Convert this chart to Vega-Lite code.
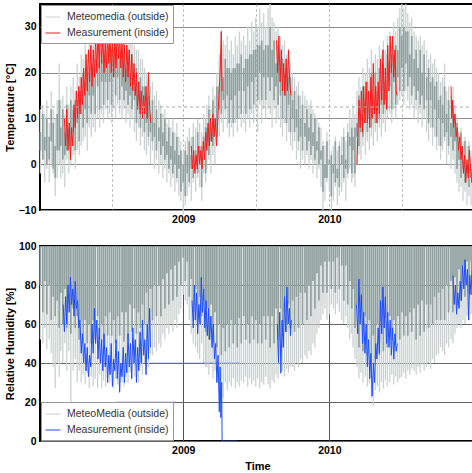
{
"$schema":"https://vega.github.io/schema/vega-lite/v6.json",
"padding":{"left":3,"top":2,"right":1,"bottom":2},
"config":{"font":"Liberation Sans","view":{"stroke":"#000","strokeWidth":2},
"axis":{"labelFont":"Liberation Sans","labelFontWeight":"bold","labelFontSize":10.5,"labelColor":"#000","titleFont":"Liberation Sans","titleFontWeight":"bold","titleFontSize":11,"titleColor":"#000","ticks":false,"domain":false,"zindex":1,"labelOverlap":false,"labelBound":false},
"axisY":{"labelOverlap":false,"labelSeparation":0},
"legend":{"title":null,"offset":1,"padding":4,"fillColor":"#fff","strokeColor":"#999","symbolType":"stroke","symbolSize":225,"symbolStrokeWidth":1,"labelFont":"Liberation Sans","labelFontSize":10.5,"labelColor":"#333","rowPadding":2,"labelOffset":6}},
"datasets":{
"out":[
{"d":"2008-01-10","tn":-2,"tx":12,"tl":3,"th":7,"hn":52,"hl":80},
{"d":"2008-01-16","tn":1,"tx":13,"tl":1,"th":11,"hn":50,"hl":66},
{"d":"2008-01-21","tn":-4,"tx":11,"tl":3,"th":6,"hn":58,"hl":82},
{"d":"2008-01-26","tn":-1,"tx":14,"tl":0,"th":10,"hn":47,"hl":65},
{"d":"2008-02-01","tn":-4,"tx":9,"tl":1,"th":6,"hn":52,"hl":80},
{"d":"2008-02-06","tn":0,"tx":16,"tl":5,"th":12,"hn":45,"hl":62},
{"d":"2008-02-11","tn":-2,"tx":12,"tl":-1,"th":9,"hn":38,"hl":74},
{"d":"2008-02-16","tn":-7,"tx":10,"tl":-3,"th":4,"hn":27,"hl":64},
{"d":"2008-02-21","tn":-3,"tx":14,"tl":3,"th":11,"hn":40,"hl":72},
{"d":"2008-02-26","tn":0,"tx":22,"tl":3,"th":14,"hn":33,"hl":58},
{"d":"2008-03-01","tn":-3,"tx":14,"tl":4,"th":8,"hn":46,"hl":76},
{"d":"2008-03-06","tn":-2,"tx":15,"tl":1,"th":12,"hn":40,"hl":60},
{"d":"2008-03-11","tn":-5,"tx":11,"tl":2,"th":7,"hn":50,"hl":78},
{"d":"2008-03-16","tn":1,"tx":17,"tl":3,"th":13,"hn":36,"hl":58},
{"d":"2008-03-21","tn":-2,"tx":13,"tl":4,"th":8,"hn":46,"hl":74},
{"d":"2008-03-26","tn":0,"tx":17,"tl":4,"th":14,"hn":17,"hl":55},
{"d":"2008-04-01","tn":2,"tx":19,"tl":7,"th":12,"hn":36,"hl":68},
{"d":"2008-04-06","tn":-1,"tx":16,"tl":3,"th":14,"hn":42,"hl":58},
{"d":"2008-04-11","tn":3,"tx":22,"tl":9,"th":14,"hn":30,"hl":64},
{"d":"2008-04-16","tn":2,"tx":19,"tl":5,"th":16,"hn":36,"hl":52},
{"d":"2008-04-21","tn":4,"tx":24,"tl":11,"th":16,"hn":30,"hl":62},
{"d":"2008-04-26","tn":5,"tx":23,"tl":8,"th":20,"hn":34,"hl":50},
{"d":"2008-05-01","tn":6,"tx":27,"tl":12,"th":18,"hn":29,"hl":62},
{"d":"2008-05-06","tn":3,"tx":23,"tl":9,"th":20,"hn":35,"hl":50},
{"d":"2008-05-11","tn":8,"tx":28,"tl":15,"th":20,"hn":27,"hl":60},
{"d":"2008-05-16","tn":6,"tx":26,"tl":11,"th":22,"hn":33,"hl":50},
{"d":"2008-05-21","tn":8,"tx":29,"tl":15,"th":21,"hn":28,"hl":62},
{"d":"2008-05-26","tn":7,"tx":27,"tl":11,"th":23,"hn":32,"hl":52},
{"d":"2008-06-01","tn":10,"tx":31,"tl":17,"th":22,"hn":27,"hl":64},
{"d":"2008-06-06","tn":8,"tx":28,"tl":12,"th":25,"hn":34,"hl":52},
{"d":"2008-06-11","tn":11,"tx":31,"tl":18,"th":23,"hn":27,"hl":60},
{"d":"2008-06-16","tn":9,"tx":30,"tl":13,"th":25,"hn":31,"hl":50},
{"d":"2008-06-21","tn":12,"tx":32,"tl":18,"th":24,"hn":28,"hl":64},
{"d":"2008-06-26","tn":10,"tx":30,"tl":14,"th":26,"hn":33,"hl":54},
{"d":"2008-07-01","tn":11,"tx":33,"tl":18,"th":24,"hn":30,"hl":66},
{"d":"2008-07-06","tn":9,"tx":29,"tl":13,"th":25,"hn":35,"hl":54},
{"d":"2008-07-11","tn":12,"tx":33,"tl":19,"th":25,"hn":27,"hl":62},
{"d":"2008-07-16","tn":10,"tx":31,"tl":15,"th":26,"hn":32,"hl":50},
{"d":"2008-07-21","tn":13,"tx":31,"tl":19,"th":24,"hn":29,"hl":64},
{"d":"2008-07-26","tn":11,"tx":32,"tl":14,"th":26,"hn":33,"hl":54},
{"d":"2008-08-01","tn":10,"tx":30,"tl":17,"th":23,"hn":30,"hl":66},
{"d":"2008-08-06","tn":12,"tx":32,"tl":14,"th":27,"hn":28,"hl":51},
{"d":"2008-08-11","tn":9,"tx":28,"tl":16,"th":21,"hn":33,"hl":66},
{"d":"2008-08-16","tn":11,"tx":30,"tl":13,"th":25,"hn":30,"hl":52},
{"d":"2008-08-21","tn":8,"tx":27,"tl":15,"th":20,"hn":35,"hl":70},
{"d":"2008-08-26","tn":10,"tx":28,"tl":12,"th":24,"hn":32,"hl":56},
{"d":"2008-09-01","tn":7,"tx":26,"tl":14,"th":19,"hn":33,"hl":68},
{"d":"2008-09-06","tn":5,"tx":25,"tl":9,"th":21,"hn":37,"hl":55},
{"d":"2008-09-11","tn":8,"tx":25,"tl":14,"th":18,"hn":30,"hl":66},
{"d":"2008-09-16","tn":4,"tx":23,"tl":8,"th":19,"hn":38,"hl":58},
{"d":"2008-09-21","tn":6,"tx":23,"tl":12,"th":17,"hn":34,"hl":70},
{"d":"2008-09-26","tn":3,"tx":21,"tl":7,"th":17,"hn":40,"hl":60},
{"d":"2008-10-01","tn":2,"tx":20,"tl":9,"th":13,"hn":42,"hl":76},
{"d":"2008-10-06","tn":4,"tx":19,"tl":6,"th":15,"hn":38,"hl":60},
{"d":"2008-10-11","tn":0,"tx":17,"tl":7,"th":11,"hn":45,"hl":78},
{"d":"2008-10-16","tn":3,"tx":18,"tl":5,"th":14,"hn":44,"hl":62},
{"d":"2008-10-21","tn":-1,"tx":15,"tl":6,"th":9,"hn":48,"hl":80},
{"d":"2008-10-26","tn":1,"tx":16,"tl":3,"th":12,"hn":46,"hl":64},
{"d":"2008-11-01","tn":-2,"tx":14,"tl":5,"th":8,"hn":50,"hl":80},
{"d":"2008-11-06","tn":0,"tx":13,"tl":2,"th":11,"hn":48,"hl":64},
{"d":"2008-11-11","tn":-3,"tx":11,"tl":4,"th":7,"hn":55,"hl":83},
{"d":"2008-11-16","tn":-1,"tx":12,"tl":1,"th":10,"hn":52,"hl":68},
{"d":"2008-11-21","tn":-4,"tx":9,"tl":2,"th":5,"hn":58,"hl":86},
{"d":"2008-11-26","tn":-2,"tx":10,"tl":-1,"th":8,"hn":55,"hl":70},
{"d":"2008-12-01","tn":-5,"tx":8,"tl":1,"th":4,"hn":60,"hl":88},
{"d":"2008-12-06","tn":-3,"tx":10,"tl":-2,"th":7,"hn":56,"hl":72},
{"d":"2008-12-11","tn":-6,"tx":7,"tl":0,"th":3,"hn":62,"hl":90},
{"d":"2008-12-16","tn":-4,"tx":9,"tl":-3,"th":6,"hn":58,"hl":74},
{"d":"2008-12-21","tn":-7,"tx":6,"tl":-1,"th":2,"hn":65,"hl":92},
{"d":"2008-12-26","tn":-8,"tx":5,"tl":-6,"th":3,"hn":68,"hl":80},
{"d":"2009-01-01","tn":-11,"tx":3,"tl":-4,"th":0,"hn":75,"hl":94},
{"d":"2009-01-06","tn":-9,"tx":5,"tl":-7,"th":3,"hn":72,"hl":82},
{"d":"2009-01-11","tn":-7,"tx":6,"tl":-2,"th":2,"hn":70,"hl":92},
{"d":"2009-01-16","tn":-5,"tx":8,"tl":-4,"th":5,"hn":62,"hl":74},
{"d":"2009-01-21","tn":-8,"tx":6,"tl":-1,"th":2,"hn":55,"hl":83},
{"d":"2009-01-26","tn":-4,"tx":9,"tl":-3,"th":6,"hn":50,"hl":66},
{"d":"2009-02-01","tn":-6,"tx":8,"tl":0,"th":3,"hn":48,"hl":78},
{"d":"2009-02-06","tn":-3,"tx":10,"tl":-2,"th":7,"hn":45,"hl":62},
{"d":"2009-02-11","tn":-5,"tx":9,"tl":1,"th":4,"hn":42,"hl":74},
{"d":"2009-02-16","tn":-8,"tx":7,"tl":-5,"th":4,"hn":50,"hl":64},
{"d":"2009-02-21","tn":-2,"tx":11,"tl":3,"th":6,"hn":40,"hl":72},
{"d":"2009-02-26","tn":-4,"tx":10,"tl":-2,"th":8,"hn":38,"hl":56},
{"d":"2009-03-01","tn":-1,"tx":13,"tl":5,"th":8,"hn":38,"hl":68},
{"d":"2009-03-06","tn":1,"tx":15,"tl":2,"th":12,"hn":34,"hl":52},
{"d":"2009-03-11","tn":-2,"tx":12,"tl":5,"th":8,"hn":40,"hl":70},
{"d":"2009-03-16","tn":2,"tx":17,"tl":4,"th":14,"hn":32,"hl":50},
{"d":"2009-03-21","tn":0,"tx":15,"tl":7,"th":10,"hn":36,"hl":66},
{"d":"2009-03-26","tn":4,"tx":20,"tl":6,"th":17,"hn":30,"hl":48},
{"d":"2009-04-01","tn":6,"tx":24,"tl":12,"th":17,"hn":26,"hl":60},
{"d":"2009-04-06","tn":9,"tx":29,"tl":11,"th":23,"hn":20,"hl":44},
{"d":"2009-04-11","tn":7,"tx":27,"tl":14,"th":19,"hn":22,"hl":58},
{"d":"2009-04-16","tn":10,"tx":26,"tl":12,"th":23,"hn":30,"hl":46},
{"d":"2009-04-21","tn":8,"tx":28,"tl":15,"th":21,"hn":26,"hl":60},
{"d":"2009-04-26","tn":6,"tx":25,"tl":9,"th":21,"hn":30,"hl":48},
{"d":"2009-05-01","tn":8,"tx":27,"tl":14,"th":20,"hn":28,"hl":62},
{"d":"2009-05-06","tn":6,"tx":24,"tl":9,"th":21,"hn":32,"hl":50},
{"d":"2009-05-11","tn":9,"tx":28,"tl":15,"th":21,"hn":27,"hl":60},
{"d":"2009-05-16","tn":7,"tx":26,"tl":10,"th":22,"hn":30,"hl":48},
{"d":"2009-05-21","tn":10,"tx":29,"tl":16,"th":22,"hn":28,"hl":63},
{"d":"2009-05-26","tn":8,"tx":27,"tl":11,"th":24,"hn":31,"hl":50},
{"d":"2009-06-01","tn":9,"tx":28,"tl":16,"th":21,"hn":30,"hl":64},
{"d":"2009-06-06","tn":7,"tx":26,"tl":11,"th":23,"hn":33,"hl":52},
{"d":"2009-06-11","tn":10,"tx":30,"tl":17,"th":23,"hn":28,"hl":60},
{"d":"2009-06-16","tn":8,"tx":27,"tl":12,"th":24,"hn":32,"hl":50},
{"d":"2009-06-21","tn":11,"tx":31,"tl":18,"th":24,"hn":29,"hl":64},
{"d":"2009-06-26","tn":9,"tx":29,"tl":13,"th":25,"hn":31,"hl":52},
{"d":"2009-07-01","tn":12,"tx":32,"tl":19,"th":25,"hn":28,"hl":62},
{"d":"2009-07-06","tn":7,"tx":30,"tl":14,"th":26,"hn":32,"hl":50},
{"d":"2009-07-11","tn":13,"tx":34,"tl":20,"th":26,"hn":27,"hl":60},
{"d":"2009-07-16","tn":9,"tx":31,"tl":14,"th":27,"hn":30,"hl":50},
{"d":"2009-07-21","tn":12,"tx":33,"tl":19,"th":25,"hn":29,"hl":64},
{"d":"2009-07-26","tn":10,"tx":30,"tl":14,"th":26,"hn":33,"hl":52},
{"d":"2009-08-01","tn":12,"tx":34,"tl":19,"th":26,"hn":29,"hl":64},
{"d":"2009-08-06","tn":11,"tx":35,"tl":16,"th":30,"hn":27,"hl":48},
{"d":"2009-08-11","tn":8,"tx":32,"tl":19,"th":25,"hn":31,"hl":64},
{"d":"2009-08-16","tn":12,"tx":31,"tl":14,"th":27,"hn":30,"hl":50},
{"d":"2009-08-21","tn":9,"tx":29,"tl":17,"th":22,"hn":34,"hl":68},
{"d":"2009-08-26","tn":10,"tx":30,"tl":13,"th":26,"hn":32,"hl":52},
{"d":"2009-09-01","tn":8,"tx":28,"tl":15,"th":21,"hn":34,"hl":68},
{"d":"2009-09-06","tn":6,"tx":26,"tl":10,"th":23,"hn":36,"hl":54},
{"d":"2009-09-11","tn":9,"tx":27,"tl":15,"th":20,"hn":33,"hl":66},
{"d":"2009-09-16","tn":5,"tx":24,"tl":9,"th":21,"hn":37,"hl":56},
{"d":"2009-09-21","tn":7,"tx":25,"tl":13,"th":19,"hn":35,"hl":70},
{"d":"2009-09-26","tn":4,"tx":22,"tl":7,"th":19,"hn":38,"hl":58},
{"d":"2009-10-01","tn":3,"tx":20,"tl":10,"th":14,"hn":38,"hl":72},
{"d":"2009-10-06","tn":5,"tx":19,"tl":7,"th":16,"hn":36,"hl":56},
{"d":"2009-10-11","tn":1,"tx":17,"tl":8,"th":12,"hn":40,"hl":74},
{"d":"2009-10-16","tn":3,"tx":18,"tl":5,"th":15,"hn":38,"hl":58},
{"d":"2009-10-21","tn":-1,"tx":15,"tl":6,"th":10,"hn":42,"hl":76},
{"d":"2009-10-26","tn":1,"tx":16,"tl":3,"th":13,"hn":40,"hl":60},
{"d":"2009-11-01","tn":0,"tx":15,"tl":6,"th":9,"hn":44,"hl":76},
{"d":"2009-11-06","tn":2,"tx":14,"tl":3,"th":12,"hn":42,"hl":62},
{"d":"2009-11-11","tn":-1,"tx":13,"tl":5,"th":8,"hn":46,"hl":80},
{"d":"2009-11-16","tn":1,"tx":14,"tl":2,"th":11,"hn":44,"hl":64},
{"d":"2009-11-21","tn":-2,"tx":12,"tl":4,"th":7,"hn":50,"hl":82},
{"d":"2009-11-26","tn":0,"tx":11,"tl":1,"th":10,"hn":48,"hl":68},
{"d":"2009-12-01","tn":-3,"tx":10,"tl":3,"th":5,"hn":55,"hl":86},
{"d":"2009-12-06","tn":-1,"tx":9,"tl":0,"th":8,"hn":58,"hl":72},
{"d":"2009-12-11","tn":-5,"tx":8,"tl":1,"th":3,"hn":62,"hl":90},
{"d":"2009-12-16","tn":-10,"tx":5,"tl":-6,"th":4,"hn":65,"hl":76},
{"d":"2009-12-21","tn":-8,"tx":4,"tl":-3,"th":0,"hn":68,"hl":92},
{"d":"2009-12-26","tn":-4,"tx":7,"tl":-3,"th":5,"hn":62,"hl":76},
{"d":"2010-01-01","tn":-6,"tx":5,"tl":0,"th":1,"hn":65,"hl":92},
{"d":"2010-01-06","tn":-10,"tx":3,"tl":-7,"th":2,"hn":70,"hl":78},
{"d":"2010-01-11","tn":-8,"tx":4,"tl":-2,"th":0,"hn":68,"hl":92},
{"d":"2010-01-16","tn":-5,"tx":6,"tl":-4,"th":5,"hn":65,"hl":76},
{"d":"2010-01-21","tn":-9,"tx":3,"tl":-3,"th":-1,"hn":70,"hl":94},
{"d":"2010-01-26","tn":-7,"tx":5,"tl":-5,"th":4,"hn":66,"hl":78},
{"d":"2010-02-01","tn":-6,"tx":6,"tl":0,"th":2,"hn":62,"hl":90},
{"d":"2010-02-06","tn":-4,"tx":8,"tl":-3,"th":6,"hn":60,"hl":72},
{"d":"2010-02-11","tn":-8,"tx":5,"tl":-1,"th":1,"hn":64,"hl":90},
{"d":"2010-02-16","tn":-3,"tx":9,"tl":-2,"th":7,"hn":58,"hl":70},
{"d":"2010-02-21","tn":-1,"tx":12,"tl":4,"th":6,"hn":52,"hl":82},
{"d":"2010-02-26","tn":-4,"tx":10,"tl":-2,"th":8,"hn":55,"hl":68},
{"d":"2010-03-01","tn":-3,"tx":13,"tl":3,"th":6,"hn":48,"hl":78},
{"d":"2010-03-06","tn":-5,"tx":11,"tl":-2,"th":8,"hn":42,"hl":58},
{"d":"2010-03-11","tn":0,"tx":16,"tl":6,"th":9,"hn":38,"hl":70},
{"d":"2010-03-16","tn":2,"tx":19,"tl":4,"th":15,"hn":32,"hl":48},
{"d":"2010-03-21","tn":1,"tx":17,"tl":7,"th":11,"hn":35,"hl":66},
{"d":"2010-03-26","tn":4,"tx":21,"tl":6,"th":17,"hn":30,"hl":46},
{"d":"2010-04-01","tn":2,"tx":20,"tl":9,"th":13,"hn":33,"hl":64},
{"d":"2010-04-06","tn":5,"tx":23,"tl":7,"th":18,"hn":28,"hl":44},
{"d":"2010-04-11","tn":3,"tx":21,"tl":10,"th":14,"hn":30,"hl":62},
{"d":"2010-04-16","tn":6,"tx":25,"tl":8,"th":20,"hn":22,"hl":40},
{"d":"2010-04-21","tn":4,"tx":22,"tl":11,"th":15,"hn":18,"hl":54},
{"d":"2010-04-26","tn":7,"tx":24,"tl":9,"th":20,"hn":26,"hl":42},
{"d":"2010-05-01","tn":5,"tx":23,"tl":12,"th":16,"hn":28,"hl":60},
{"d":"2010-05-06","tn":8,"tx":26,"tl":10,"th":21,"hn":25,"hl":44},
{"d":"2010-05-11","tn":6,"tx":24,"tl":13,"th":17,"hn":30,"hl":62},
{"d":"2010-05-16","tn":9,"tx":27,"tl":11,"th":22,"hn":27,"hl":46},
{"d":"2010-05-21","tn":7,"tx":25,"tl":14,"th":18,"hn":31,"hl":63},
{"d":"2010-05-26","tn":10,"tx":28,"tl":12,"th":24,"hn":28,"hl":48},
{"d":"2010-06-01","tn":11,"tx":29,"tl":17,"th":22,"hn":30,"hl":64},
{"d":"2010-06-06","tn":9,"tx":27,"tl":12,"th":24,"hn":34,"hl":52},
{"d":"2010-06-11","tn":12,"tx":31,"tl":18,"th":24,"hn":29,"hl":62},
{"d":"2010-06-16","tn":10,"tx":29,"tl":13,"th":26,"hn":33,"hl":50},
{"d":"2010-06-21","tn":13,"tx":32,"tl":19,"th":25,"hn":30,"hl":64},
{"d":"2010-06-26","tn":14,"tx":34,"tl":16,"th":30,"hn":32,"hl":52},
{"d":"2010-07-01","tn":15,"tx":35,"tl":21,"th":28,"hn":33,"hl":66},
{"d":"2010-07-06","tn":13,"tx":34,"tl":16,"th":30,"hn":35,"hl":54},
{"d":"2010-07-11","tn":16,"tx":35,"tl":22,"th":29,"hn":32,"hl":64},
{"d":"2010-07-16","tn":14,"tx":33,"tl":17,"th":29,"hn":36,"hl":54},
{"d":"2010-07-21","tn":12,"tx":31,"tl":19,"th":24,"hn":34,"hl":66},
{"d":"2010-07-26","tn":13,"tx":32,"tl":15,"th":28,"hn":37,"hl":56},
{"d":"2010-08-01","tn":10,"tx":29,"tl":17,"th":23,"hn":36,"hl":68},
{"d":"2010-08-06","tn":12,"tx":28,"tl":14,"th":25,"hn":34,"hl":52},
{"d":"2010-08-11","tn":9,"tx":27,"tl":16,"th":21,"hn":38,"hl":70},
{"d":"2010-08-16","tn":11,"tx":28,"tl":13,"th":25,"hn":35,"hl":54},
{"d":"2010-08-21","tn":8,"tx":26,"tl":15,"th":20,"hn":39,"hl":72},
{"d":"2010-08-26","tn":10,"tx":27,"tl":12,"th":24,"hn":36,"hl":56},
{"d":"2010-09-01","tn":7,"tx":25,"tl":14,"th":19,"hn":38,"hl":70},
{"d":"2010-09-06","tn":5,"tx":23,"tl":9,"th":21,"hn":40,"hl":58},
{"d":"2010-09-11","tn":8,"tx":24,"tl":14,"th":18,"hn":37,"hl":70},
{"d":"2010-09-16","tn":4,"tx":22,"tl":8,"th":19,"hn":42,"hl":60},
{"d":"2010-09-21","tn":6,"tx":23,"tl":12,"th":17,"hn":40,"hl":74},
{"d":"2010-09-26","tn":3,"tx":21,"tl":6,"th":18,"hn":44,"hl":62},
{"d":"2010-10-01","tn":4,"tx":20,"tl":10,"th":14,"hn":45,"hl":76},
{"d":"2010-10-06","tn":1,"tx":18,"tl":4,"th":15,"hn":48,"hl":62},
{"d":"2010-10-11","tn":3,"tx":19,"tl":9,"th":13,"hn":46,"hl":78},
{"d":"2010-10-16","tn":5,"tx":22,"tl":6,"th":17,"hn":44,"hl":62},
{"d":"2010-10-21","tn":0,"tx":16,"tl":7,"th":11,"hn":50,"hl":80},
{"d":"2010-10-26","tn":2,"tx":17,"tl":4,"th":14,"hn":48,"hl":66},
{"d":"2010-11-01","tn":-1,"tx":15,"tl":6,"th":9,"hn":52,"hl":82},
{"d":"2010-11-06","tn":1,"tx":17,"tl":3,"th":13,"hn":50,"hl":66},
{"d":"2010-11-11","tn":-2,"tx":13,"tl":5,"th":8,"hn":55,"hl":84},
{"d":"2010-11-16","tn":-4,"tx":10,"tl":-1,"th":9,"hn":58,"hl":70},
{"d":"2010-11-21","tn":-6,"tx":7,"tl":1,"th":3,"hn":60,"hl":88},
{"d":"2010-11-26","tn":-5,"tx":8,"tl":-3,"th":7,"hn":58,"hl":72},
{"d":"2010-12-01","tn":-8,"tx":5,"tl":-1,"th":1,"hn":62,"hl":90},
{"d":"2010-12-06","tn":-6,"tx":6,"tl":-4,"th":5,"hn":60,"hl":74},
{"d":"2010-12-11","tn":-9,"tx":4,"tl":-2,"th":0,"hn":64,"hl":92},
{"d":"2010-12-16","tn":-7,"tx":5,"tl":-5,"th":4,"hn":62,"hl":76},
{"d":"2010-12-21","tn":-9,"tx":3,"tl":-3,"th":-1,"hn":65,"hl":92},
{"d":"2010-12-26","tn":-6,"tx":4,"tl":-4,"th":4,"hn":60,"hl":74},
{"d":"2010-12-30","tn":-8,"tx":3,"tl":-2,"th":0,"hn":63,"hl":88}
],
"tin":[
{"p":1,"d":"2008-03-10","v":10},{"p":1,"d":"2008-03-13","v":4},{"p":1,"d":"2008-03-16","v":12},{"p":1,"d":"2008-03-19","v":3},{"p":1,"d":"2008-03-22","v":9},{"p":1,"d":"2008-03-25","v":1},{"p":1,"d":"2008-03-28","v":8},{"p":1,"d":"2008-03-31","v":4},{"p":1,"d":"2008-04-03","v":13},{"p":1,"d":"2008-04-06","v":8},{"p":1,"d":"2008-04-09","v":16},{"p":1,"d":"2008-04-12","v":10},{"p":1,"d":"2008-04-15","v":17},{"p":1,"d":"2008-04-18","v":11},{"p":1,"d":"2008-04-21","v":19},{"p":1,"d":"2008-04-24","v":13},{"p":1,"d":"2008-04-27","v":21},{"p":1,"d":"2008-04-30","v":15},{"p":1,"d":"2008-05-03","v":24},{"p":1,"d":"2008-05-06","v":16},{"p":1,"d":"2008-05-09","v":25},{"p":1,"d":"2008-05-12","v":18},{"p":1,"d":"2008-05-15","v":26},{"p":1,"d":"2008-05-18","v":17},{"p":1,"d":"2008-05-21","v":25},{"p":1,"d":"2008-05-24","v":19},{"p":1,"d":"2008-05-27","v":28},{"p":1,"d":"2008-05-30","v":20},{"p":1,"d":"2008-06-02","v":29},{"p":1,"d":"2008-06-05","v":21},{"p":1,"d":"2008-06-08","v":30},{"p":1,"d":"2008-06-11","v":22},{"p":1,"d":"2008-06-14","v":28},{"p":1,"d":"2008-06-17","v":20},{"p":1,"d":"2008-06-20","v":27},{"p":1,"d":"2008-06-23","v":21},{"p":1,"d":"2008-06-26","v":29},{"p":1,"d":"2008-06-29","v":22},{"p":1,"d":"2008-07-02","v":28},{"p":1,"d":"2008-07-05","v":20},{"p":1,"d":"2008-07-08","v":27},{"p":1,"d":"2008-07-11","v":19},{"p":1,"d":"2008-07-14","v":27},{"p":1,"d":"2008-07-17","v":21},{"p":1,"d":"2008-07-20","v":30},{"p":1,"d":"2008-07-23","v":23},{"p":1,"d":"2008-07-26","v":29},{"p":1,"d":"2008-07-29","v":21},{"p":1,"d":"2008-08-01","v":27},{"p":1,"d":"2008-08-04","v":19},{"p":1,"d":"2008-08-07","v":26},{"p":1,"d":"2008-08-10","v":18},{"p":1,"d":"2008-08-13","v":26},{"p":1,"d":"2008-08-16","v":19},{"p":1,"d":"2008-08-19","v":25},{"p":1,"d":"2008-08-22","v":17},{"p":1,"d":"2008-08-25","v":24},{"p":1,"d":"2008-08-28","v":16},{"p":1,"d":"2008-08-31","v":22},{"p":1,"d":"2008-09-03","v":15},{"p":1,"d":"2008-09-06","v":20},{"p":1,"d":"2008-09-09","v":12},{"p":1,"d":"2008-09-12","v":18},{"p":1,"d":"2008-09-15","v":11},{"p":1,"d":"2008-09-18","v":16},{"p":1,"d":"2008-09-21","v":10},{"p":1,"d":"2008-09-24","v":15},{"p":1,"d":"2008-09-27","v":11},{"p":1,"d":"2008-09-30","v":17},{"p":1,"d":"2008-10-03","v":10},{"p":1,"d":"2008-10-06","v":20},{"p":1,"d":"2008-10-09","v":12},{"p":1,"d":"2008-10-12","v":9},
{"p":2,"d":"2009-01-21","v":4},{"p":2,"d":"2009-01-24","v":-1},{"p":2,"d":"2009-01-27","v":3},{"p":2,"d":"2009-01-30","v":-2},{"p":2,"d":"2009-02-02","v":2},{"p":2,"d":"2009-02-05","v":-1},{"p":2,"d":"2009-02-08","v":4},{"p":2,"d":"2009-02-11","v":0},{"p":2,"d":"2009-02-14","v":3},{"p":2,"d":"2009-02-17","v":-1},{"p":2,"d":"2009-02-20","v":5},{"p":2,"d":"2009-02-23","v":1},{"p":2,"d":"2009-02-26","v":7},{"p":2,"d":"2009-03-01","v":3},{"p":2,"d":"2009-03-04","v":9},{"p":2,"d":"2009-03-07","v":4},{"p":2,"d":"2009-03-10","v":10},{"p":2,"d":"2009-03-13","v":5},{"p":2,"d":"2009-03-16","v":11},{"p":2,"d":"2009-03-19","v":6},{"p":2,"d":"2009-03-22","v":10},{"p":2,"d":"2009-03-25","v":4},{"p":2,"d":"2009-03-28","v":9},{"p":2,"d":"2009-03-31","v":15},{"p":2,"d":"2009-04-03","v":20},{"p":2,"d":"2009-04-06","v":29},{"p":2,"d":"2009-04-08","v":16},
{"p":3,"d":"2009-08-22","v":27},{"p":3,"d":"2009-08-25","v":20},{"p":3,"d":"2009-08-28","v":28},{"p":3,"d":"2009-08-31","v":18},{"p":3,"d":"2009-09-03","v":25},{"p":3,"d":"2009-09-06","v":16},{"p":3,"d":"2009-09-09","v":22},{"p":3,"d":"2009-09-12","v":15},{"p":3,"d":"2009-09-15","v":23},{"p":3,"d":"2009-09-18","v":16},{"p":3,"d":"2009-09-21","v":25},{"p":3,"d":"2009-09-24","v":18},{"p":3,"d":"2009-09-27","v":15},
{"p":4,"d":"2010-03-11","v":0},{"p":4,"d":"2010-03-13","v":6},{"p":4,"d":"2010-03-16","v":14},{"p":4,"d":"2010-03-19","v":8},{"p":4,"d":"2010-03-22","v":16},{"p":4,"d":"2010-03-25","v":7},{"p":4,"d":"2010-03-28","v":17},{"p":4,"d":"2010-03-31","v":9},{"p":4,"d":"2010-04-03","v":18},{"p":4,"d":"2010-04-06","v":9},{"p":4,"d":"2010-04-09","v":16},{"p":4,"d":"2010-04-12","v":8},{"p":4,"d":"2010-04-15","v":19},{"p":4,"d":"2010-04-18","v":10},{"p":4,"d":"2010-04-21","v":22},{"p":4,"d":"2010-04-24","v":11},{"p":4,"d":"2010-04-27","v":17},{"p":4,"d":"2010-04-30","v":9},{"p":4,"d":"2010-05-03","v":18},{"p":4,"d":"2010-05-06","v":11},{"p":4,"d":"2010-05-09","v":23},{"p":4,"d":"2010-05-12","v":14},{"p":4,"d":"2010-05-15","v":25},{"p":4,"d":"2010-05-18","v":13},{"p":4,"d":"2010-05-21","v":21},{"p":4,"d":"2010-05-24","v":12},{"p":4,"d":"2010-05-27","v":26},{"p":4,"d":"2010-05-30","v":16},{"p":4,"d":"2010-06-02","v":28},{"p":4,"d":"2010-06-05","v":20},{"p":4,"d":"2010-06-08","v":28},{"p":4,"d":"2010-06-11","v":19},{"p":4,"d":"2010-06-14","v":25},{"p":4,"d":"2010-06-17","v":16},{"p":4,"d":"2010-06-19","v":15},
{"p":5,"d":"2010-11-01","v":17},{"p":5,"d":"2010-11-03","v":10},{"p":5,"d":"2010-11-05","v":14},{"p":5,"d":"2010-11-08","v":8},{"p":5,"d":"2010-11-11","v":11},{"p":5,"d":"2010-11-14","v":6},{"p":5,"d":"2010-11-17","v":8},{"p":5,"d":"2010-11-20","v":3},{"p":5,"d":"2010-11-23","v":6},{"p":5,"d":"2010-11-26","v":1},{"p":5,"d":"2010-11-29","v":4},{"p":5,"d":"2010-12-02","v":-2},{"p":5,"d":"2010-12-05","v":2},{"p":5,"d":"2010-12-08","v":-4},{"p":5,"d":"2010-12-11","v":1},{"p":5,"d":"2010-12-14","v":-3},{"p":5,"d":"2010-12-17","v":3},{"p":5,"d":"2010-12-20","v":-1},{"p":5,"d":"2010-12-23","v":-4},{"p":5,"d":"2010-12-26","v":-2}
],
"hin":[
{"p":1,"d":"2008-03-07","v":70},{"p":1,"d":"2008-03-10","v":56},{"p":1,"d":"2008-03-13","v":74},{"p":1,"d":"2008-03-16","v":60},{"p":1,"d":"2008-03-19","v":80},{"p":1,"d":"2008-03-22","v":66},{"p":1,"d":"2008-03-25","v":84},{"p":1,"d":"2008-03-28","v":70},{"p":1,"d":"2008-03-31","v":78},{"p":1,"d":"2008-04-03","v":64},{"p":1,"d":"2008-04-06","v":82},{"p":1,"d":"2008-04-09","v":68},{"p":1,"d":"2008-04-12","v":72},{"p":1,"d":"2008-04-15","v":58},{"p":1,"d":"2008-04-18","v":62},{"p":1,"d":"2008-04-21","v":45},{"p":1,"d":"2008-04-24","v":55},{"p":1,"d":"2008-04-27","v":40},{"p":1,"d":"2008-04-30","v":50},{"p":1,"d":"2008-05-03","v":36},{"p":1,"d":"2008-05-06","v":48},{"p":1,"d":"2008-05-09","v":33},{"p":1,"d":"2008-05-12","v":44},{"p":1,"d":"2008-05-15","v":38},{"p":1,"d":"2008-05-18","v":60},{"p":1,"d":"2008-05-21","v":45},{"p":1,"d":"2008-05-24","v":68},{"p":1,"d":"2008-05-27","v":50},{"p":1,"d":"2008-05-30","v":62},{"p":1,"d":"2008-06-02","v":42},{"p":1,"d":"2008-06-05","v":58},{"p":1,"d":"2008-06-08","v":40},{"p":1,"d":"2008-06-11","v":52},{"p":1,"d":"2008-06-14","v":36},{"p":1,"d":"2008-06-17","v":55},{"p":1,"d":"2008-06-20","v":38},{"p":1,"d":"2008-06-23","v":48},{"p":1,"d":"2008-06-26","v":30},{"p":1,"d":"2008-06-29","v":44},{"p":1,"d":"2008-07-02","v":34},{"p":1,"d":"2008-07-05","v":50},{"p":1,"d":"2008-07-08","v":28},{"p":1,"d":"2008-07-11","v":42},{"p":1,"d":"2008-07-14","v":36},{"p":1,"d":"2008-07-17","v":52},{"p":1,"d":"2008-07-20","v":32},{"p":1,"d":"2008-07-23","v":46},{"p":1,"d":"2008-07-26","v":25},{"p":1,"d":"2008-07-29","v":40},{"p":1,"d":"2008-08-01","v":33},{"p":1,"d":"2008-08-04","v":48},{"p":1,"d":"2008-08-07","v":30},{"p":1,"d":"2008-08-10","v":45},{"p":1,"d":"2008-08-13","v":35},{"p":1,"d":"2008-08-16","v":55},{"p":1,"d":"2008-08-19","v":38},{"p":1,"d":"2008-08-22","v":50},{"p":1,"d":"2008-08-25","v":32},{"p":1,"d":"2008-08-28","v":58},{"p":1,"d":"2008-08-31","v":40},{"p":1,"d":"2008-09-03","v":52},{"p":1,"d":"2008-09-06","v":30},{"p":1,"d":"2008-09-09","v":48},{"p":1,"d":"2008-09-12","v":36},{"p":1,"d":"2008-09-15","v":56},{"p":1,"d":"2008-09-18","v":40},{"p":1,"d":"2008-09-21","v":62},{"p":1,"d":"2008-09-24","v":44},{"p":1,"d":"2008-09-27","v":52},{"p":1,"d":"2008-09-30","v":34},{"p":1,"d":"2008-10-03","v":60},{"p":1,"d":"2008-10-06","v":42},{"p":1,"d":"2008-10-09","v":68},{"p":1,"d":"2008-10-11","v":48},
{"p":2,"d":"2009-01-23","v":72},{"p":2,"d":"2009-01-26","v":58},{"p":2,"d":"2009-01-29","v":80},{"p":2,"d":"2009-01-31","v":62},{"p":2,"d":"2009-02-03","v":76},{"p":2,"d":"2009-02-06","v":55},{"p":2,"d":"2009-02-09","v":70},{"p":2,"d":"2009-02-12","v":60},{"p":2,"d":"2009-02-15","v":84},{"p":2,"d":"2009-02-18","v":66},{"p":2,"d":"2009-02-21","v":78},{"p":2,"d":"2009-02-24","v":58},{"p":2,"d":"2009-02-27","v":72},{"p":2,"d":"2009-03-02","v":54},{"p":2,"d":"2009-03-05","v":68},{"p":2,"d":"2009-03-08","v":52},{"p":2,"d":"2009-03-11","v":64},{"p":2,"d":"2009-03-14","v":48},{"p":2,"d":"2009-03-17","v":60},{"p":2,"d":"2009-03-20","v":42},{"p":2,"d":"2009-03-23","v":50},{"p":2,"d":"2009-03-26","v":30},{"p":2,"d":"2009-03-29","v":44},{"p":2,"d":"2009-04-01","v":15},{"p":2,"d":"2009-04-03","v":38},{"p":2,"d":"2009-04-05","v":12},{"p":2,"d":"2009-04-07","v":30},{"p":2,"d":"2009-04-08","v":0},
{"p":3,"d":"2009-08-24","v":60},{"p":3,"d":"2009-08-27","v":40},{"p":3,"d":"2009-08-30","v":66},{"p":3,"d":"2009-09-02","v":35},{"p":3,"d":"2009-09-05","v":62},{"p":3,"d":"2009-09-08","v":48},{"p":3,"d":"2009-09-11","v":74},{"p":3,"d":"2009-09-14","v":56},{"p":3,"d":"2009-09-17","v":79},{"p":3,"d":"2009-09-20","v":60},{"p":3,"d":"2009-09-23","v":68},{"p":3,"d":"2009-09-26","v":54},{"p":3,"d":"2009-09-28","v":62},
{"p":4,"d":"2010-03-10","v":70},{"p":4,"d":"2010-03-13","v":55},{"p":4,"d":"2010-03-16","v":83},{"p":4,"d":"2010-03-19","v":60},{"p":4,"d":"2010-03-22","v":75},{"p":4,"d":"2010-03-25","v":50},{"p":4,"d":"2010-03-28","v":66},{"p":4,"d":"2010-03-31","v":45},{"p":4,"d":"2010-04-03","v":60},{"p":4,"d":"2010-04-06","v":38},{"p":4,"d":"2010-04-09","v":52},{"p":4,"d":"2010-04-12","v":32},{"p":4,"d":"2010-04-15","v":45},{"p":4,"d":"2010-04-18","v":23},{"p":4,"d":"2010-04-21","v":40},{"p":4,"d":"2010-04-24","v":30},{"p":4,"d":"2010-04-27","v":50},{"p":4,"d":"2010-04-30","v":42},{"p":4,"d":"2010-05-03","v":58},{"p":4,"d":"2010-05-06","v":45},{"p":4,"d":"2010-05-09","v":72},{"p":4,"d":"2010-05-12","v":55},{"p":4,"d":"2010-05-15","v":79},{"p":4,"d":"2010-05-18","v":58},{"p":4,"d":"2010-05-21","v":74},{"p":4,"d":"2010-05-24","v":50},{"p":4,"d":"2010-05-27","v":66},{"p":4,"d":"2010-05-30","v":48},{"p":4,"d":"2010-06-02","v":62},{"p":4,"d":"2010-06-05","v":44},{"p":4,"d":"2010-06-08","v":58},{"p":4,"d":"2010-06-11","v":42},{"p":4,"d":"2010-06-14","v":55},{"p":4,"d":"2010-06-17","v":46},{"p":4,"d":"2010-06-20","v":50},
{"p":5,"d":"2010-11-06","v":85},{"p":5,"d":"2010-11-09","v":70},{"p":5,"d":"2010-11-12","v":80},{"p":5,"d":"2010-11-15","v":65},{"p":5,"d":"2010-11-18","v":76},{"p":5,"d":"2010-11-21","v":68},{"p":5,"d":"2010-11-24","v":82},{"p":5,"d":"2010-11-27","v":72},{"p":5,"d":"2010-11-30","v":90},{"p":5,"d":"2010-12-03","v":78},{"p":5,"d":"2010-12-06","v":93},{"p":5,"d":"2010-12-09","v":80},{"p":5,"d":"2010-12-12","v":88},{"p":5,"d":"2010-12-15","v":62},{"p":5,"d":"2010-12-18","v":85},{"p":5,"d":"2010-12-21","v":75},{"p":5,"d":"2010-12-24","v":92},{"p":5,"d":"2010-12-27","v":80}
],
"hart":[{"s":"2008-07-16","e":"2008-12-12","v":20},{"s":"2008-10-11","e":"2009-05-22","v":40},{"s":"2009-04-08","e":"2009-05-15","v":0}]
},
"spacing":14,
"resolve":{"scale":{"color":"independent"},"legend":{"color":"independent"}},
"vconcat":[
{"width":435,"height":206,
"layer":[
{"data":{"name":"out"},"mark":{"type":"rule","strokeWidth":1.3},
"encoding":{"x":{"field":"d","type":"temporal","scale":{"type":"utc","domain":[{"year":2008,"month":1,"date":9,"utc":true},{"year":2010,"month":12,"date":31,"utc":true}]},
"axis":{"title":null,"values":[{"year":2008,"month":7,"date":6,"utc":true},{"year":2009,"month":1,"date":1,"utc":true},{"year":2009,"month":7,"date":2,"utc":true},{"year":2010,"month":1,"date":1,"utc":true},{"year":2010,"month":7,"date":2,"utc":true}],"labelExpr":"utcmonth(datum.value)===0 && utcdate(datum.value)===1 ? utcFormat(datum.value,'%Y') : ''","gridDash":[2,3],"gridColor":"#a3abab","labelPadding":4}},
"y":{"field":"tn","type":"quantitative","scale":{"domain":[-10,35],"nice":false,"zero":false},"axis":{"title":"Temperature [°C]","values":[-10,0,10,20,30],"gridColor":"#8c8c8c","labelPadding":4,"titlePadding":3,"labelOverlap":false}},
"y2":{"field":"tx"},
"color":{"datum":"Meteomedia (outside)","scale":{"domain":["Meteomedia (outside)","Measurement (inside)"],"range":["#c9d2d0","#ff1a1a"]},"legend":{"orient":"top-left"}}}},
{"data":{"name":"out"},"mark":{"type":"rule","strokeWidth":1.7,"color":"#91a19f"},
"encoding":{"x":{"field":"d","type":"temporal"},"y":{"field":"tl","type":"quantitative"},"y2":{"field":"th"}}},
{"data":{"name":"tin"},"mark":{"type":"line","strokeWidth":1},
"encoding":{"x":{"field":"d","type":"temporal"},"y":{"field":"v","type":"quantitative"},"detail":{"field":"p"},"color":{"datum":"Measurement (inside)"}}},
{"data":{"values":[{"v":12.5}]},"mark":{"type":"rule","strokeDash":[3,3],"color":"#a3abab","strokeWidth":1},"encoding":{"y":{"field":"v","type":"quantitative"}}}
]},
{"width":435,"height":195,
"layer":[
{"data":{"name":"out"},"mark":{"type":"rule","strokeWidth":1.3},
"encoding":{"x":{"field":"d","type":"temporal","scale":{"type":"utc","domain":[{"year":2008,"month":1,"date":9,"utc":true},{"year":2010,"month":12,"date":31,"utc":true}]},
"axis":{"title":"Time","values":[{"year":2009,"month":1,"date":1,"utc":true},{"year":2010,"month":1,"date":1,"utc":true}],"labelExpr":"utcFormat(datum.value,'%Y')","gridColor":"#555","labelPadding":4,"titlePadding":5}},
"y":{"field":"hn","type":"quantitative","scale":{"domain":[0,100],"nice":false},"axis":{"title":"Relative Humidity [%]","values":[0,20,40,60,80,100],"tickCount":6,"gridColor":"#666","labelPadding":4,"titlePadding":3,"labelOverlap":false}},
"y2":{"datum":100},
"color":{"datum":"MeteoMedia (outside)","scale":{"domain":["MeteoMedia (outside)","Measurement (inside)"],"range":["#c9d2d0","#1f4fff"]},"legend":{"orient":"bottom-left"}}}},
{"data":{"name":"out"},"mark":{"type":"rule","strokeWidth":1.7,"color":"#91a19f"},
"encoding":{"x":{"field":"d","type":"temporal"},"y":{"field":"hl","type":"quantitative","axis":{"title":"Relative Humidity [%]","values":[0,20,40,60,80,100],"tickCount":6,"gridColor":"#666","labelPadding":4,"titlePadding":3,"labelOverlap":false}},"y2":{"datum":100}}},
{"data":{"name":"hart"},"mark":{"type":"rule","strokeWidth":1,"color":"#5577ff","opacity":0.5},
"encoding":{"x":{"field":"s","type":"temporal"},"x2":{"field":"e"},"y":{"field":"v","type":"quantitative","axis":{"title":"Relative Humidity [%]","values":[0,20,40,60,80,100],"tickCount":6,"gridColor":"#666","labelPadding":4,"titlePadding":3,"labelOverlap":false}}}},
{"data":{"name":"hin"},"mark":{"type":"line","strokeWidth":1},
"encoding":{"x":{"field":"d","type":"temporal"},"y":{"field":"v","type":"quantitative","axis":{"title":"Relative Humidity [%]","values":[0,20,40,60,80,100],"tickCount":6,"gridColor":"#666","labelPadding":4,"titlePadding":3,"labelOverlap":false}},"detail":{"field":"p"},"color":{"datum":"Measurement (inside)"}}}
]}
]
}
